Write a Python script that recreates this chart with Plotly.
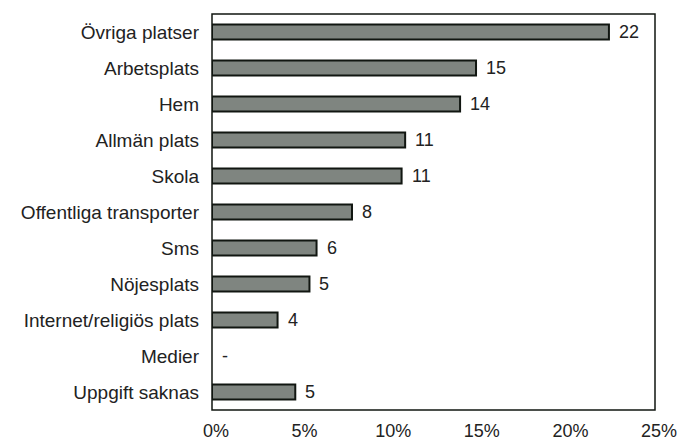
import plotly.graph_objects as go

# Categories top to bottom, shares in percent (None = no data, shown as "-")
categories = ["Övriga platser", "Arbetsplats", "Hem", "Allmän plats", "Skola",
              "Offentliga transporter", "Sms", "Nöjesplats",
              "Internet/religiös plats", "Medier", "Uppgift saknas"]
values = [22.4, 14.9, 14.0, 10.9, 10.7, 7.9, 5.9, 5.5, 3.7, None, 4.7]
labels = ["22", "15", "14", "11", "11", "8", "6", "5", "4", "-", "5"]
x_ticks = [0, 5, 10, 15, 20, 25]
x_tick_text = ["0%", "5%", "10%", "15%", "20%", "25%"]

font = "Liberation Sans, Arial, sans-serif"
ink = "#222222"
edge = "#111611"

fig = go.Figure()

fig.add_trace(go.Bar(
    x=values,
    y=categories,
    orientation="h",
    width=0.42,
    marker=dict(color="#7f8580", line=dict(color=edge, width=2)),
    hoverinfo="skip",
))

for cat, val, lab in zip(categories, values, labels):
    fig.add_annotation(
        x=val if val is not None else 0, y=cat, text=lab, showarrow=False,
        xanchor="left", xshift=8,
        font=dict(family=font, size=18, color=ink),
    )

# frame around the plot area
fig.add_shape(type="rect", xref="paper", yref="paper", x0=0, x1=1, y0=0, y1=1,
              line=dict(color=edge, width=1.5), layer="above")

# page body adds an 8px offset, so the figure is drawn 8px smaller
fig.update_layout(
    width=686, height=436,
    margin=dict(l=204, r=39, t=6, b=34),
    paper_bgcolor="white",
    plot_bgcolor="white",
    showlegend=False,
    font=dict(family=font, size=19, color=ink),
)

fig.update_xaxes(
    range=[0, 25],
    tickvals=x_ticks,
    ticktext=x_tick_text,
    tickfont=dict(size=18),
    showgrid=False,
    zeroline=False,
    showline=False,
    ticks="",
    ticklabelstandoff=8,
    ticklabelshift=4,
    automargin=False,
)
fig.update_yaxes(
    categoryorder="array",
    categoryarray=categories[::-1],
    range=[-0.5, len(categories) - 0.5],
    showgrid=False,
    zeroline=False,
    showline=False,
    ticks="",
    ticklabelstandoff=12,
    automargin=False,
)

fig.write_html("out.html")
